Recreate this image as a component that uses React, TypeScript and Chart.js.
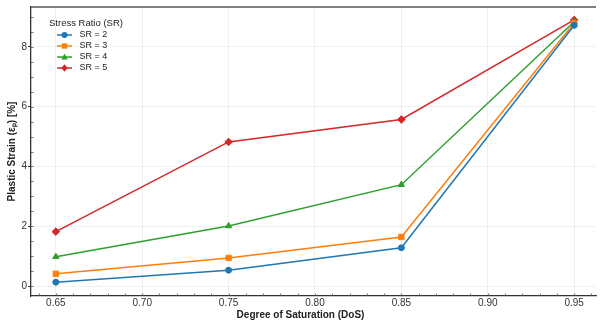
import { useEffect, useRef } from 'react';
import { Chart, registerables } from 'chart.js';

Chart.register(...registerables);

// ---- data ----
const dos = [0.65, 0.75, 0.85, 0.95];
const sr2 = [0.13, 0.53, 1.28, 8.72];
const sr3 = [0.41, 0.94, 1.64, 8.8];
const sr4 = [0.98, 2.01, 3.39, 8.84];
const sr5 = [1.82, 4.82, 5.57, 8.9];
const seriesLabels = ['SR = 2', 'SR = 3', 'SR = 4', 'SR = 5'];
const xTickValues = [0.65, 0.7, 0.75, 0.8, 0.85, 0.9, 0.95];
const yTickValues = [0, 2, 4, 6, 8];
const xMinorStep = 0.01;
const yMinorStep = 0.5;

const colors = ['#1f77b4', '#ff7f0e', '#2ca02c', '#d62728'];
const markers = ['circle', 'rect', 'triangle', 'rectRot'];
const markerRadius = [3, 3.8, 3.6, 3.8];
const FONT = "'Liberation Sans', Arial, sans-serif";

function makeIcon(color: string, marker: string): HTMLCanvasElement {
  const c = document.createElement('canvas');
  c.width = 24;
  c.height = 10;
  const ctx = c.getContext('2d')!;
  ctx.strokeStyle = color;
  ctx.fillStyle = color;
  ctx.lineWidth = 1.5;
  ctx.beginPath();
  ctx.moveTo(6, 5);
  ctx.lineTo(21, 5);
  ctx.stroke();
  const cx = 13.5, cy = 5;
  ctx.beginPath();
  if (marker === 'circle') {
    ctx.arc(cx, cy, 3, 0, Math.PI * 2);
  } else if (marker === 'rect') {
    ctx.rect(cx - 2.7, cy - 2.7, 5.4, 5.4);
  } else if (marker === 'triangle') {
    ctx.moveTo(cx, cy - 3.4);
    ctx.lineTo(cx + 3.2, cy + 2.6);
    ctx.lineTo(cx - 3.2, cy + 2.6);
    ctx.closePath();
  } else {
    ctx.moveTo(cx, cy - 3.8);
    ctx.lineTo(cx + 3.2, cy);
    ctx.lineTo(cx, cy + 3.8);
    ctx.lineTo(cx - 3.2, cy);
    ctx.closePath();
  }
  ctx.fill();
  return c;
}

const legendPlacer = {
  id: 'legendPlacer',
  afterLayout(chart: any) {
    const lg = chart.legend;
    if (!lg) return;
    const a = chart.chartArea;
    lg.left = a.left + 18;
    lg.top = a.top + 10;
    lg.width = 160;
    lg.height = 80;
    lg.right = lg.left + lg.width;
    lg.bottom = lg.top + lg.height;
  },
};

const spinesAndMinor = {
  id: 'spinesAndMinor',
  afterDraw(chart: any) {
    const { ctx, chartArea: a } = chart;
    const xs = chart.scales.x;
    const ys = chart.scales.y;
    ctx.save();
    ctx.strokeStyle = '#555';
    ctx.lineWidth = 1.3;
    ctx.beginPath();
    ctx.moveTo(a.left, a.top);
    ctx.lineTo(a.right, a.top);
    ctx.stroke();
    // minor ticks (inward)
    ctx.strokeStyle = '#555';
    ctx.lineWidth = 0.8;
    ctx.beginPath();
    const xStart = Math.ceil(xs.min / xMinorStep);
    const xEnd = Math.floor(xs.max / xMinorStep);
    for (let k = xStart; k <= xEnd; k++) {
      const px = Math.round(xs.getPixelForValue(k * xMinorStep)) + 0.5;
      ctx.moveTo(px, a.bottom);
      ctx.lineTo(px, a.bottom - 2.5);
    }
    const yStart = Math.ceil(ys.min / yMinorStep);
    const yEnd = Math.floor(ys.max / yMinorStep);
    for (let k = yStart; k <= yEnd; k++) {
      const py = Math.round(ys.getPixelForValue(k * yMinorStep)) + 0.5;
      ctx.moveTo(a.left, py);
      ctx.lineTo(a.left + 2.5, py);
    }
    ctx.stroke();
    ctx.restore();
  },
};

export default function App() {
  const ref = useRef<HTMLCanvasElement | null>(null);

  useEffect(() => {
    document.body.style.margin = '0';
    if (!ref.current) return;
    const series = [sr2, sr3, sr4, sr5];
    const icons = colors.map((c, i) => makeIcon(c, markers[i]));
    const chart = new Chart(ref.current, {
      type: 'line',
      data: {
        datasets: series.map((vals, i) => ({
          label: seriesLabels[i],
          data: dos.map((x, j) => ({ x, y: vals[j] })),
          borderColor: colors[i],
          backgroundColor: colors[i],
          borderWidth: 1.5,
          pointStyle: markers[i] as any,
          pointRadius: markerRadius[i],
          pointBorderWidth: 1,
          pointBackgroundColor: colors[i],
          pointBorderColor: colors[i],
          tension: 0,
          fill: false,
        })),
      },
      options: {
        animation: false,
        responsive: false,
        devicePixelRatio: 1,
        layout: { padding: { top: 6, left: 0, right: 0, bottom: 0 } },
        scales: {
          x: {
            type: 'linear',
            min: 0.63563,
            max: 0.96264,
            afterBuildTicks: (s: any) => {
              s.ticks = xTickValues.map((v) => ({ value: v }));
            },
            afterFit: (s: any) => {
              s.height = 13;
            },
            ticks: {
              font: { family: FONT, size: 10 },
              color: '#333',
              padding: 1,
              callback: (v: any) => Number(v).toFixed(2),
              maxRotation: 0,
            },
            grid: { color: 'rgba(0,0,0,0.08)', lineWidth: 0.8, drawTicks: false },
            border: { color: '#333', width: 1.3 },
          },
          y: {
            type: 'linear',
            min: -0.333,
            max: 9.333,
            afterBuildTicks: (s: any) => {
              s.ticks = yTickValues.map((v) => ({ value: v }));
            },
            afterFit: (s: any) => {
              s.width = 31;
            },
            ticks: {
              font: { family: FONT, size: 10 },
              color: '#333',
              padding: 1,
            },
            grid: {
              color: 'rgba(0,0,0,0.08)',
              lineWidth: 0.8,
              tickLength: 3,
              tickColor: '#333',
              tickWidth: 1,
            },
            border: { color: '#333', width: 1.3 },
            title: {
              display: true,
              text: 'Plastic Strain (εₚ) [%]',
              font: { family: FONT, size: 10, weight: 'bold' },
              color: '#222',
              padding: { top: 6, bottom: 0 },
            },
          },
        },
        plugins: {
          title: {
            display: true,
            position: 'bottom',
            text: 'Degree of Saturation (DoS)',
            font: { family: FONT, size: 10, weight: 'bold' },
            color: '#222',
            padding: { top: 0, bottom: 1 },
          },
          legend: {
            display: true,
            position: 'chartArea' as any,
            align: 'start',
            title: {
              display: true,
              text: 'Stress Ratio (SR)',
              font: { family: FONT, size: 9.5, lineHeight: 1 },
              color: '#222',
              padding: { top: 2, bottom: 0 },
              position: 'start',
            },
            labels: {
              usePointStyle: true,
              pointStyleWidth: 24,
              padding: 2,
              font: { family: FONT, size: 9 },
              color: '#222',
              generateLabels: (ch: any) =>
                (Chart.defaults.plugins.legend.labels as any)
                  .generateLabels(ch)
                  .map((l: any, i: number) => ({ ...l, pointStyle: icons[i] })),
            },
          },
          tooltip: { enabled: false },
        },
      },
      plugins: [legendPlacer, spinesAndMinor],
    } as any);
    return () => chart.destroy();
  }, []);

  return (
    <div style={{ width: 601, height: 322 }}>
      <canvas ref={ref} width={601} height={322} />
    </div>
  );
}
